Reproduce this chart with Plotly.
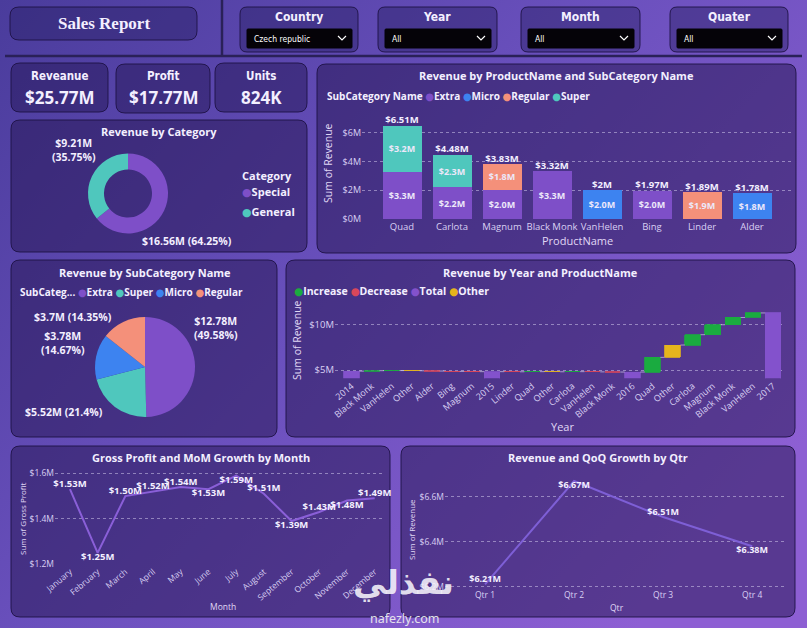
import base64
import plotly.graph_objects as go

W, H = 807, 628
FONT = "Segoe UI, Open Sans, Noto Sans, DejaVu Sans, sans-serif"
NARROW = "Liberation Sans Narrow, DejaVu Sans Condensed, Arial Narrow, sans-serif"
TXT = "#f3efff"
TICK = "#d9d0f3"
GRID = "rgba(235,230,255,0.45)"

# ---- data ----
kpi_names = ["Reveanue", "Profit", "Units"]
kpi_values = ["$25.77M", "$17.77M", "824K"]

filter_names = ["Country", "Year", "Month", "Quater"]
filter_values = ["Czech republic", "All", "All", "All"]

products = ["Quad", "Carlota", "Magnum", "Black Monk", "VanHelen", "Bing", "Linder", "Alder"]
rev_extra = [3.30, 2.20, 2.03, 3.32, 0, 1.97, 0, 0]
rev_micro = [0, 0, 0, 0, 2.00, 0, 0, 1.78]
rev_regular = [0, 0, 1.80, 0, 0, 0, 1.89, 0]
rev_super = [3.21, 2.28, 0, 0, 0, 0, 0, 0]

categories = ["Special", "General"]
cat_revenue = [16.557, 9.213]

subcats = ["Extra", "Super", "Micro", "Regular"]
subcat_revenue = [12.777, 5.516, 3.781, 3.697]

wf_labels = ["2014", "Black Monk", "VanHelen", "Other", "Alder", "Bing", "Magnum",
             "2015", "Linder", "Quad", "Other", "Carlota", "VanHelen", "Black Monk",
             "2016", "Quad", "Other", "Carlota", "Magnum", "Black Monk", "VanHelen", "2017"]
wf_values = [4.88, 0.05, 0.01, -0.02, -0.03, -0.04, -0.03,
             4.82, -0.01, 0.01, -0.01, 0.01, -0.02, -0.02,
             4.78, 1.62, 1.36, 1.14, 1.10, 0.80, 0.50, 11.30]
wf_kind = ["total", "step", "step", "other", "step", "step", "step",
           "total", "step", "step", "other", "step", "step", "step",
           "total", "step", "other", "step", "step", "step", "step", "total"]

months = ["January", "February", "March", "April", "May", "June", "July",
          "August", "September", "October", "November", "December"]
gross_profit = [1.53, 1.25, 1.50, 1.52, 1.54, 1.53, 1.59, 1.51, 1.39, 1.43, 1.48, 1.49]

quarters = ["Qtr 1", "Qtr 2", "Qtr 3", "Qtr 4"]
qtr_revenue = [6.21, 6.67, 6.51, 6.38]

EXTRA, MICRO, REGULAR, SUPER = "#7e4fc8", "#3d83f0", "#f4907a", "#4fc7bd"
INC, DEC, TOTAL, OTHER = "#1aab40", "#d9475a", "#8352cc", "#e5b51d"
LINE = "#8a5fd8"


def px(x):
    return x / W


def py(y):
    return 1 - y / H


def trim(v):
    return f"{v:.2f}".rstrip("0").rstrip(".")


def money(v):
    return "$" + trim(v) + "M"


def pct(v, tot):
    return trim(v / tot * 100) + "%"


shapes = []
ann = []


def rrect(l, t, r, b, rad=9, fill="rgba(35,20,80,0.5)", line="rgba(30,18,70,0.9)", lw=1):
    x0, x1, y0, y1 = px(l), px(r), py(b), py(t)
    rx, ry = rad / W, rad / H
    path = (f"M {x0+rx},{y1} L {x1-rx},{y1} Q {x1},{y1} {x1},{y1-ry} L {x1},{y0+ry} "
            f"Q {x1},{y0} {x1-rx},{y0} L {x0+rx},{y0} Q {x0},{y0} {x0},{y0+ry} "
            f"L {x0},{y1-ry} Q {x0},{y1} {x0+rx},{y1} Z")
    shapes.append(dict(type="path", path=path, xref="paper", yref="paper",
                       fillcolor=fill, line=dict(color=line, width=lw), layer="below"))


def label(x, y, text, size=11, bold=True, color=TXT, xanchor="center", angle=0, family=FONT):
    ann.append(dict(x=px(x), y=py(y), xref="paper", yref="paper",
                    text=f"<b>{text}</b>" if bold else text, showarrow=False,
                    font=dict(size=size, color=color, family=family),
                    xanchor=xanchor, yanchor="middle", textangle=angle))


def dot(c):
    return f"<span style='color:{c}'>●</span>"


# ---- header ----
rrect(10, 7, 197, 40, rad=9, fill="rgba(40,30,100,0.45)")
label(104, 23, "Sales Report", size=17, family="Liberation Serif, DejaVu Serif, serif")
shapes.append(dict(type="line", xref="paper", yref="paper", x0=px(222), x1=px(222), y0=py(0), y1=py(56),
                   line=dict(color="#2a2158", width=2.5)))
shapes.append(dict(type="line", xref="paper", yref="paper", x0=px(5), x1=px(802), y0=py(56), y1=py(56),
                   line=dict(color="#2a2158", width=2.5)))

filter_boxes = [(240, 358), (378, 497), (521, 640), (670, 788)]
for (l, r), name, val in zip(filter_boxes, filter_names, filter_values):
    rrect(l, 7, r, 52, rad=7, fill="rgba(40,30,100,0.45)")
    label((l + r) / 2, 17, name, size=12, family=NARROW)
    rrect(l + 7, 29, r - 6, 48, rad=1, fill="#050308", line="#050308")
    label(l + 12, 39.5, val, size=8.5, bold=False, color="#ffffff", xanchor="left", family=NARROW)
    cx = r - 16
    shapes.append(dict(type="path", xref="paper", yref="paper",
                       path=f"M {px(cx-4)},{py(36)} L {px(cx)},{py(40)} L {px(cx+4)},{py(36)}",
                       line=dict(color="#ffffff", width=1.2)))

kpi_boxes = [(11, 63, 108, 112), (116, 64, 210, 113), (215, 63, 307, 112)]
for (l, t, r, b), name, val in zip(kpi_boxes, kpi_names, kpi_values):
    rrect(l, t, r, b, rad=9, fill="rgba(35,22,85,0.5)")
    label((l + r) / 2, 76, name, size=11.5, family=NARROW)
    label((l + r) / 2, 97, val, size=17, family=FONT)

# ---- panels ----
rrect(11, 120, 307, 252)
rrect(317, 64, 796, 253)
rrect(11, 260, 277, 437)
rrect(286, 260, 795, 437)
rrect(11, 446, 390, 617)
rrect(401, 446, 795, 617)

label(159, 132, "Revenue by Category")
label(556, 76, "Revenue by ProductName and SubCategory Name")
label(145, 272, "Revenue by SubCategory Name")
label(540, 272, "Revenue by Year and ProductName")
label(201, 458, "Gross Profit and MoM Growth by Month")
label(598, 458, "Revenue and QoQ Growth by Qtr")

fig = go.Figure()

# ---- stacked bar: revenue by product ----
for name, vals, col in [("Extra", rev_extra, EXTRA), ("Micro", rev_micro, MICRO),
                        ("Regular", rev_regular, REGULAR), ("Super", rev_super, SUPER)]:
    fig.add_trace(go.Bar(
        x=products, y=vals, name=name, marker=dict(color=col, line=dict(width=0)),
        text=[f"<b>${v:.1f}M</b>" if v else "" for v in vals],
        textposition="inside", insidetextanchor="middle", constraintext="none",
        textfont=dict(size=9, color="#ece8fa", family=FONT),
        xaxis="x", yaxis="y", showlegend=False))
totals = [a + b + c + d for a, b, c, d in zip(rev_extra, rev_micro, rev_regular, rev_super)]
fig.add_trace(go.Scatter(
    x=products, y=totals, mode="text", text=[f"<b>{money(v)}</b>" for v in totals],
    textposition="top center", textfont=dict(size=9.5, color=TXT, family=FONT), cliponaxis=False,
    xaxis="x", yaxis="y", showlegend=False, hoverinfo="skip"))
label(325, 96, "SubCategory Name " + dot(EXTRA) + "Extra " + dot(MICRO) + "Micro "
      + dot(REGULAR) + "Regular " + dot(SUPER) + "Super", size=10, xanchor="left")
label(328, 163, "Sum of Revenue", size=10.5, bold=False, color="#e0d8f5", angle=-90)
label(577, 241, "ProductName", size=11, bold=False, color="#e0d8f5")

# ---- donut: revenue by category ----
fig.add_trace(go.Pie(
    labels=categories, values=cat_revenue, hole=0.6, sort=False, direction="clockwise", rotation=0,
    marker=dict(colors=[EXTRA, SUPER]), textinfo="none",
    domain=dict(x=[px(88), px(168)], y=[py(234), py(153)]), showlegend=False))
tot_cat = sum(cat_revenue)
label(74, 150, f"{money(cat_revenue[1])}<br>({pct(cat_revenue[1], tot_cat)})", size=10.5)
label(187, 241, f"{money(cat_revenue[0])} ({pct(cat_revenue[0], tot_cat)})", size=10.5)
label(240, 176, "Category", size=11, xanchor="left")
label(240, 192, dot(EXTRA) + "Special", size=11, xanchor="left")
label(240, 211, dot(SUPER) + "General", size=11, xanchor="left")

# ---- pie: revenue by subcategory ----
fig.add_trace(go.Pie(
    labels=subcats, values=subcat_revenue, sort=False, direction="clockwise", rotation=0,
    marker=dict(colors=[EXTRA, SUPER, MICRO, REGULAR]), textinfo="none",
    domain=dict(x=[px(95), px(195)], y=[py(417), py(317)]), showlegend=False))
tot_sub = sum(subcat_revenue)
label(216, 328, f"{money(subcat_revenue[0])}<br>({pct(subcat_revenue[0], tot_sub)})", size=10.5)
label(64, 412, f"{money(subcat_revenue[1])} ({pct(subcat_revenue[1], tot_sub)})", size=10.5)
label(63, 343, f"{money(subcat_revenue[2])}<br>({pct(subcat_revenue[2], tot_sub)})", size=10.5)
label(73, 317, f"{money(subcat_revenue[3])} ({pct(subcat_revenue[3], tot_sub)})", size=10.5)
label(18, 292, "SubCateg... " + dot(EXTRA) + "Extra " + dot(SUPER) + "Super "
      + dot(MICRO) + "Micro " + dot(REGULAR) + "Regular", size=10, xanchor="left")

# ---- waterfall: revenue by year and product ----
running = 0
bases, colors, ends = [], [], []
for v, k in zip(wf_values, wf_kind):
    if k == "total":
        bases.append(0)
        running = v
        colors.append(TOTAL)
    else:
        bases.append(running)
        running += v
        colors.append(OTHER if k == "other" else (INC if v >= 0 else DEC))
    ends.append(running)
idx = list(range(len(wf_values)))
fig.add_trace(go.Bar(
    x=idx, y=wf_values, base=bases, marker=dict(color=colors, line=dict(color=colors, width=0.8)),
    xaxis="x2", yaxis="y2", showlegend=False))
cx, cy = [], []
for i in range(len(ends) - 1):
    cx += [i + 0.39, i + 0.61, None]
    cy += [ends[i], ends[i], None]
fig.add_trace(go.Scatter(x=cx, y=cy, mode="lines", line=dict(color="rgba(210,200,230,0.7)", width=1),
                         xaxis="x2", yaxis="y2", showlegend=False, hoverinfo="skip"))
label(292, 291, dot(INC) + "Increase " + dot(DEC) + "Decrease " + dot(TOTAL) + "Total "
      + dot(OTHER) + "Other", size=10.5, xanchor="left")
label(297, 340, "Sum of Revenue", size=10.5, bold=False, color="#e0d8f5", angle=-90)
label(562, 426, "Year", size=11, bold=False, color="#e0d8f5")

# ---- line: gross profit by month ----
gp_pos = ["top center", "bottom center", "top center", "top center", "top center", "bottom center",
          "bottom center", "top center", "bottom center", "top center", "bottom center", "top center"]
fig.add_trace(go.Scatter(
    x=months, y=gross_profit, mode="lines+text", line=dict(color=LINE, width=2),
    text=[f"<b>${v:.2f}M</b>" for v in gross_profit], textposition=gp_pos,
    textfont=dict(size=9.5, color=TXT, family=FONT), cliponaxis=False,
    xaxis="x3", yaxis="y3", showlegend=False))
label(22, 519, "Sum of Gross Profit", size=8, bold=False, color="#e0d8f5", angle=-90)
label(223, 606, "Month", size=8.5, bold=False, color="#e0d8f5")

# ---- line: revenue by quarter ----
q_pos = ["top center", "bottom center", "top center", "bottom center"]
fig.add_trace(go.Scatter(
    x=quarters, y=qtr_revenue, mode="lines+text", line=dict(color="#7e5fd6", width=2),
    text=[f"<b>${v:.2f}M</b>" for v in qtr_revenue], textposition=q_pos,
    textfont=dict(size=9, color=TXT, family=FONT), cliponaxis=False,
    xaxis="x4", yaxis="y4", showlegend=False))
label(411, 530, "Sum of Revenue", size=8, bold=False, color="#e0d8f5", angle=-90)
label(617, 607, "Qtr", size=8.5, bold=False, color="#e0d8f5")

# watermark
label(403, 582, "نفذلي", size=33, color="rgba(245,243,250,0.9)", family="DejaVu Sans, sans-serif")
label(405, 618, "nafezly.com", size=12.5, bold=False, color="#e4e2ec", family="Noto Sans, sans-serif")

# background gradient as an inline svg image
svg = ('<svg xmlns="http://www.w3.org/2000/svg" width="807" height="628">'
       '<defs><linearGradient id="g" x1="0" y1="0" x2="1" y2="0.7">'
       '<stop offset="0" stop-color="#4a3c9c"/><stop offset="0.5" stop-color="#6a50bd"/>'
       '<stop offset="1" stop-color="#8d5fd3"/></linearGradient></defs>'
       '<rect width="807" height="628" fill="url(#g)"/></svg>')
bg = "data:image/svg+xml;base64," + base64.b64encode(svg.encode()).decode()


def yax(anchor, dom_top, dom_bot, rng, vals, size=9):
    return dict(domain=[py(dom_bot), py(dom_top)], range=rng, anchor=anchor, automargin=False,
                tickmode="array", tickvals=vals, ticktext=[money(v) for v in vals],
                showgrid=True, gridcolor=GRID, griddash="dot", zeroline=False, showline=False,
                tickfont=dict(size=size, color=TICK), fixedrange=True)


def xax(anchor, l, r, rng, size=9, angle=0, **kw):
    d = dict(domain=[px(l), px(r)], range=rng, anchor=anchor, automargin=False,
             showgrid=False, zeroline=False, showline=False,
             tickangle=angle, tickfont=dict(size=size, color=TICK), fixedrange=True)
    d.update(kw)
    return d


fig.update_layout(
    width=W, height=H, margin=dict(l=0, r=0, t=0, b=0, autoexpand=False),
    paper_bgcolor="#5c48ae", plot_bgcolor="rgba(0,0,0,0)",
    font=dict(family=FONT, color=TXT),
    barmode="stack", bargap=0.22,
    shapes=shapes, annotations=ann,
    images=[dict(source=bg, xref="paper", yref="paper", x=0, y=1, sizex=1, sizey=1,
                 xanchor="left", yanchor="top", sizing="stretch", layer="below")],
    xaxis=xax("y", 362, 792, [-0.8, 7.8], size=9.5),
    yaxis=yax("x", 120, 219, [0, 6.9], [0, 2, 4, 6]),
    xaxis2=xax("y2", 335, 785, [-0.83, 21.6], size=9, angle=-40, tickmode="array",
               tickvals=idx, ticktext=wf_labels),
    yaxis2=yax("x2", 306.6, 378.2, [4.1, 12.0], [5, 10], size=9.5),
    xaxis3=xax("y3", 55, 383, [-0.54, 11.3], size=8.5, angle=-40),
    yaxis3=yax("x3", 466, 564.3, [1.2, 1.632], [1.2, 1.4, 1.6], size=8.5),
    xaxis4=xax("y4", 445, 786, [-0.45, 3.38], size=8.5),
    yaxis4=yax("x4", 468, 588, [6.194, 6.728], [6.2, 6.4, 6.6], size=8.5),
)

# the page body has a default 8px margin; drop it so the figure fills the window
fig.write_html("out.html", config={"displayModeBar": False},
               post_script="document.body.style.margin = '0';")
